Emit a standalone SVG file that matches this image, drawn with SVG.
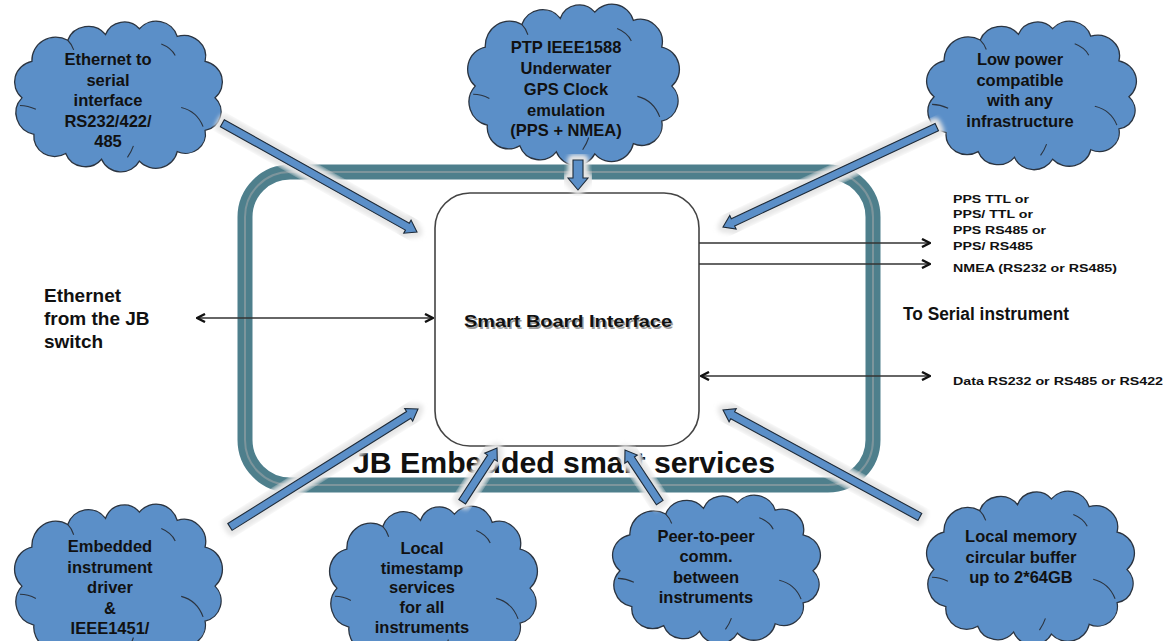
<svg xmlns="http://www.w3.org/2000/svg" xmlns:xlink="http://www.w3.org/1999/xlink" width="1167" height="641" viewBox="0 0 1167 641">
<style>
.cloud{fill:#5b8fc8;stroke:#2b3440;stroke-width:1.3}
.inner{fill:none;stroke:#2b3440;stroke-width:1.1}
.ct{font-family:"Liberation Sans",Arial,sans-serif;font-weight:bold;font-size:16.5px;fill:#111;text-anchor:middle}
.lbl{font-family:"Liberation Sans",Arial,sans-serif;font-weight:bold;fill:#111}
.small{font-family:"Liberation Sans",Arial,sans-serif;font-weight:bold;font-size:11px;fill:#111}
.conn{stroke:#333;stroke-width:1.5;fill:none}
.arr{fill:#5b8fc8;stroke:#1d2a38;stroke-width:1.1;stroke-linejoin:miter}
.halo{fill:#e6e6e6;stroke:#e6e6e6;stroke-width:11;stroke-linejoin:round;filter:url(#blur)}
</style>
<defs>
<filter id="blur" x="-20%" y="-20%" width="140%" height="140%"><feGaussianBlur stdDeviation="2"/></filter>
<marker id="chev" viewBox="0 0 10 10" refX="9" refY="5" markerWidth="10" markerHeight="10" markerUnits="userSpaceOnUse" orient="auto-start-reverse">
<path d="M1,1 L9,5 L1,9" fill="none" stroke="#111" stroke-width="2.4"/>
</marker>
<symbol id="cloudShape" viewBox="0 0 214 148" preserveAspectRatio="none" overflow="visible">
<path class="cloud" vector-effect="non-scaling-stroke" d="M12,78 A22,22 0 0 1 22,40 A24,24 0 0 1 58,18 A22,22 0 0 1 96,12 A20,20 0 0 1 130,6 A22,22 0 0 1 168,14 A22,22 0 0 1 196,40 A22,22 0 0 1 206,78 A20,20 0 0 1 196,112 A20,20 0 0 1 168,134 A22,22 0 0 1 130,144 A21,21 0 0 1 92,142 A21,21 0 0 1 56,136 A21,21 0 0 1 24,116 A23,23 0 0 1 12,78 Z"/>
<path class="inner" vector-effect="non-scaling-stroke" d="M172,88 Q188,92 194,108 M26,90 Q18,86 10,86 M152,22 Q162,26 166,34 M58,18 Q62,22 64,28 M118,140 Q122,134 124,128"/>
</symbol>
</defs>
<rect width="1167" height="641" fill="#ffffff"/>

<g id="frame">
<rect x="245" y="172" width="628" height="313" rx="45" fill="none" stroke="#4e7f8c" stroke-width="15"/>
<rect x="245" y="172" width="628" height="313" rx="45" fill="none" stroke="#7d959c" stroke-width="2"/>
<text class="lbl" x="564" y="473" font-size="29" text-anchor="middle" textLength="422" lengthAdjust="spacingAndGlyphs">JB Embedded smart services</text>
</g>

<g id="smart-board">
<rect x="435" y="193" width="264" height="253" rx="35" fill="#ffffff" stroke="#444" stroke-width="1.6"/>
<text class="lbl" x="569.5" y="328.5" font-size="17" text-anchor="middle" fill="#999" textLength="208" lengthAdjust="spacingAndGlyphs" style="fill:#9a9a9a">Smart Board Interface</text>
<text class="lbl" x="568" y="327" font-size="17" text-anchor="middle" textLength="208" lengthAdjust="spacingAndGlyphs">Smart Board Interface</text>
</g>

<g id="connectors">
<line class="conn" x1="197" y1="318" x2="433" y2="318" marker-start="url(#chev)" marker-end="url(#chev)"/>
<line class="conn" x1="699" y1="243" x2="930" y2="243" marker-end="url(#chev)"/>
<line class="conn" x1="699" y1="264" x2="930" y2="264" marker-end="url(#chev)"/>
<line class="conn" x1="701" y1="376" x2="930" y2="376" marker-start="url(#chev)" marker-end="url(#chev)"/>
</g>

<g id="labels">
<text class="lbl" font-size="19"><tspan x="44" y="302">Ethernet</tspan><tspan x="44" y="325">from  the JB</tspan><tspan x="44" y="348">switch</tspan></text>
<text class="lbl" x="903" y="320" font-size="17.5" textLength="166" lengthAdjust="spacingAndGlyphs">To Serial instrument</text>
<text class="small" x="953" y="203" textLength="76" lengthAdjust="spacingAndGlyphs">PPS TTL or</text>
<text class="small" x="953" y="218" textLength="80" lengthAdjust="spacingAndGlyphs">PPS/ TTL or</text>
<text class="small" x="953" y="234" textLength="93" lengthAdjust="spacingAndGlyphs">PPS RS485 or</text>
<text class="small" x="953" y="250" textLength="80" lengthAdjust="spacingAndGlyphs">PPS/ RS485</text>
<text class="small" x="953" y="272" textLength="164" lengthAdjust="spacingAndGlyphs">NMEA (RS232 or RS485)</text>
<text class="small" x="953" y="385" textLength="210" lengthAdjust="spacingAndGlyphs">Data RS232 or RS485 or RS422</text>
</g>

<g id="cloud-ethernet-serial">
<use xlink:href="#cloudShape" href="#cloudShape" x="10" y="23" width="213" height="142"/>
<text class="ct"><tspan x="108" y="65">Ethernet to</tspan><tspan x="108" y="85.5">serial</tspan><tspan x="108" y="106">interface</tspan><tspan x="108" y="126.5">RS232/422/</tspan><tspan x="108" y="147">485</tspan></text>
</g>

<g id="cloud-ptp">
<use xlink:href="#cloudShape" href="#cloudShape" x="463" y="6" width="217" height="152"/>
<text class="ct"><tspan x="566" y="53">PTP IEEE1588</tspan><tspan x="566" y="74">Underwater</tspan><tspan x="566" y="95">GPS Clock</tspan><tspan x="566" y="115.5">emulation</tspan><tspan x="566" y="136">(PPS + NMEA)</tspan></text>
</g>

<g id="cloud-lowpower">
<use xlink:href="#cloudShape" href="#cloudShape" x="922" y="23" width="215" height="140"/>
<text class="ct"><tspan x="1020" y="65">Low power</tspan><tspan x="1020" y="85.5">compatible</tspan><tspan x="1020" y="106">with any</tspan><tspan x="1020" y="126.5">infrastructure</tspan></text>
</g>

<g id="cloud-driver">
<use xlink:href="#cloudShape" href="#cloudShape" x="10" y="506" width="213" height="152"/>
<text class="ct"><tspan x="110" y="552">Embedded</tspan><tspan x="110" y="572.5">instrument</tspan><tspan x="110" y="593">driver</tspan><tspan x="110" y="613.5">&amp;</tspan><tspan x="110" y="634">IEEE1451/</tspan></text>
</g>

<g id="cloud-timestamp">
<use xlink:href="#cloudShape" href="#cloudShape" x="325" y="508" width="213" height="152"/>
<text class="ct"><tspan x="422" y="554">Local</tspan><tspan x="422" y="573.5">timestamp</tspan><tspan x="422" y="593">services</tspan><tspan x="422" y="613">for all</tspan><tspan x="422" y="633">instruments</tspan></text>
</g>

<g id="cloud-p2p">
<use xlink:href="#cloudShape" href="#cloudShape" x="608" y="497" width="213" height="140"/>
<text class="ct"><tspan x="706" y="542">Peer-to-peer</tspan><tspan x="706" y="562">comm.</tspan><tspan x="706" y="582.5">between</tspan><tspan x="706" y="603">instruments</tspan></text>
</g>

<g id="cloud-memory">
<use xlink:href="#cloudShape" href="#cloudShape" x="922" y="493" width="213" height="145"/>
<text class="ct"><tspan x="1021" y="542">Local memory</tspan><tspan x="1021" y="562.5">circular buffer</tspan><tspan x="1021" y="583">up to 2*64GB</tspan></text>
</g>

<g id="service-arrows">
<g transform="translate(417,232) rotate(29.2)">
<polygon class="halo" points="-223,-4 -11,-4 -11,-7.5 0,0 -11,7.5 -11,4 -223,4"/>
<polygon class="arr" points="-223,-4 -11,-4 -11,-7.5 0,0 -11,7.5 -11,4 -223,4"/>
</g>
<g transform="translate(578,190) rotate(90)">
<polygon class="halo" points="-30,-5 -12,-5 -12,-10 0,0 -12,10 -12,5 -30,5"/>
<polygon class="arr" points="-30,-5 -12,-5 -12,-10 0,0 -12,10 -12,5 -30,5"/>
</g>
<g transform="translate(723,227) rotate(154.95)">
<polygon class="halo" points="-236,-4 -11,-4 -11,-7.5 0,0 -11,7.5 -11,4 -236,4"/>
<polygon class="arr" points="-236,-4 -11,-4 -11,-7.5 0,0 -11,7.5 -11,4 -236,4"/>
</g>
<g transform="translate(418,409) rotate(-32.1)">
<polygon class="halo" points="-222,-4 -11,-4 -11,-7.5 0,0 -11,7.5 -11,4 -222,4"/>
<polygon class="arr" points="-222,-4 -11,-4 -11,-7.5 0,0 -11,7.5 -11,4 -222,4"/>
</g>
<g transform="translate(497,448) rotate(-57.05)">
<polygon class="halo" points="-64,-4 -11,-4 -11,-7.5 0,0 -11,7.5 -11,4 -64,4"/>
<polygon class="arr" points="-64,-4 -11,-4 -11,-7.5 0,0 -11,7.5 -11,4 -64,4"/>
</g>
<g transform="translate(625,450) rotate(-123.44)">
<polygon class="halo" points="-63,-4 -11,-4 -11,-7.5 0,0 -11,7.5 -11,4 -63,4"/>
<polygon class="arr" points="-63,-4 -11,-4 -11,-7.5 0,0 -11,7.5 -11,4 -63,4"/>
</g>
<g transform="translate(723,410) rotate(-151.5)">
<polygon class="halo" points="-224,-4 -11,-4 -11,-7.5 0,0 -11,7.5 -11,4 -224,4"/>
<polygon class="arr" points="-224,-4 -11,-4 -11,-7.5 0,0 -11,7.5 -11,4 -224,4"/>
</g>
</g>
</svg>
